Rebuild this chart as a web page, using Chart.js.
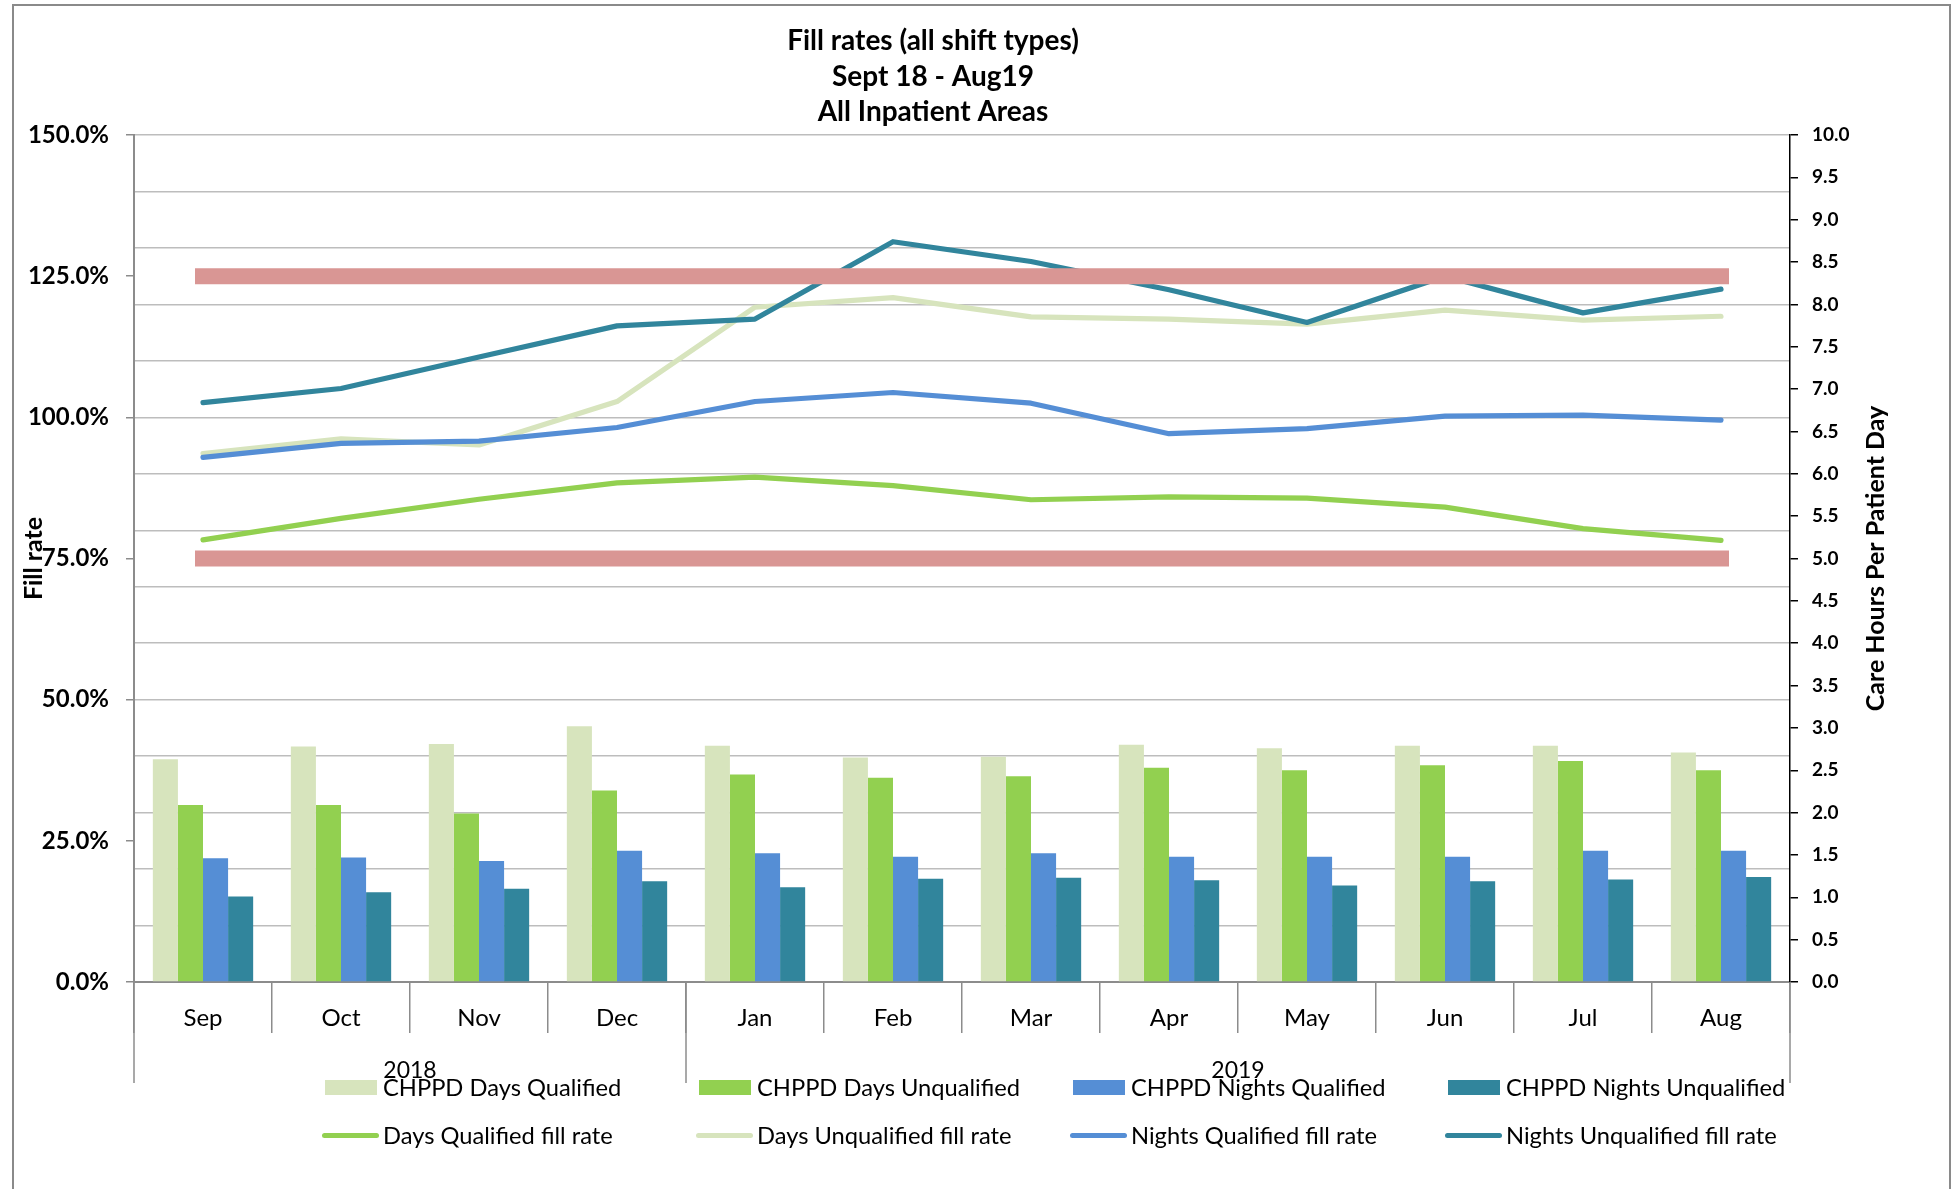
<!DOCTYPE html>
<html>
<head>
<meta charset="utf-8">
<script src="https://cdn.jsdelivr.net/npm/chart.js@4.4.1/dist/chart.umd.min.js"></script>
<style>
  html, body { margin:0; padding:0; background:#fff; width:1957px; height:1189px; overflow:hidden; }
  #wrap { position:absolute; left:0; top:0; width:1957px; height:1189px; }
  #frame { position:absolute; left:12px; top:4px; width:1939px; height:1300px; border:2px solid #8a8a8a; box-sizing:border-box; pointer-events:none; }
  #legend { position:absolute; left:0; top:0; width:1957px; height:1189px; pointer-events:none; font-family:Lato, "Open Sans", sans-serif; font-size:23.7px; color:#000; }
  .item { position:absolute; height:30px; display:flex; align-items:center; white-space:nowrap; }
  .sw-bar { width:52px; height:15px; margin-right:6px; }
  .sw-line { width:57px; height:5px; border-radius:3px; margin-left:-3px; margin-right:4px; }
</style>
</head>
<body>
<div id="wrap"><canvas id="c"></canvas></div>
<div id="frame"></div>
<div id="legend"></div>
<script>
// ---- data ----
const months = ['Sep','Oct','Nov','Dec','Jan','Feb','Mar','Apr','May','Jun','Jul','Aug'];
const yearLabels = ['2018','2019'];
const yearSpans = [4, 8];

const chppdDaysQualified     = [2.63, 2.78, 2.81, 3.02, 2.79, 2.65, 2.66, 2.80, 2.76, 2.79, 2.79, 2.71];
const chppdDaysUnqualified   = [2.09, 2.09, 1.99, 2.26, 2.45, 2.41, 2.43, 2.53, 2.50, 2.56, 2.61, 2.50];
const chppdNightsQualified   = [1.46, 1.47, 1.43, 1.55, 1.52, 1.48, 1.52, 1.48, 1.48, 1.48, 1.55, 1.55];
const chppdNightsUnqualified = [1.01, 1.06, 1.10, 1.19, 1.12, 1.22, 1.23, 1.20, 1.14, 1.19, 1.21, 1.24];

const daysQualifiedRate     = [78.3, 82.1, 85.5, 88.4, 89.4, 87.9, 85.4, 85.9, 85.7, 84.1, 80.3, 78.2];
const daysUnqualifiedRate   = [93.6, 96.2, 95.1, 102.8, 119.5, 121.2, 117.8, 117.4, 116.5, 119.0, 117.2, 117.9];
const nightsQualifiedRate   = [92.9, 95.4, 95.8, 98.2, 102.8, 104.4, 102.5, 97.1, 98.0, 100.2, 100.4, 99.5];
const nightsUnqualifiedRate = [102.6, 105.1, 110.7, 116.2, 117.4, 131.1, 127.6, 122.6, 116.8, 125.0, 118.5, 122.7];

const limitLevels = [125, 75];

const titleLines = ['Fill rates (all shift types)', 'Sept 18 - Aug19', 'All Inpatient Areas'];
const leftAxisTitle = 'Fill rate';
const rightAxisTitle = 'Care Hours Per Patient Day';

// ---- styles ----
const C_PALE = '#d7e4bd', C_GREEN = '#92d050', C_BLUE = '#558ed5', C_TEAL = '#31859c', C_RED = '#d99694';
const FONT = 'Lato';

function barSet(label, data, color) {
  return { type:'bar', label, data, backgroundColor:color, yAxisID:'y2', order:10,
           barPercentage:1.0, categoryPercentage:0.727, legendRow:0 };
}
function lineSet(label, data, color, order) {
  return { type:'line', label, data, borderColor:color, backgroundColor:color, yAxisID:'y',
           borderWidth:5.2, pointRadius:0, pointHoverRadius:0, tension:0, order,
           borderCapStyle:'round', borderJoinStyle:'round', legendRow:1 };
}
const datasets = [
  barSet('CHPPD Days Qualified', chppdDaysQualified, C_PALE),
  barSet('CHPPD Days Unqualified', chppdDaysUnqualified, C_GREEN),
  barSet('CHPPD Nights Qualified', chppdNightsQualified, C_BLUE),
  barSet('CHPPD Nights Unqualified', chppdNightsUnqualified, C_TEAL),
  lineSet('Days Qualified fill rate', daysQualifiedRate, C_GREEN, 4),
  lineSet('Days Unqualified fill rate', daysUnqualifiedRate, C_PALE, 3),
  lineSet('Nights Qualified fill rate', nightsQualifiedRate, C_BLUE, 2),
  lineSet('Nights Unqualified fill rate', nightsUnqualifiedRate, C_TEAL, 1),
];
limitLevels.forEach(v => datasets.push({
  type:'line', label:'limit ' + v, data: months.map(() => v), borderColor:C_RED,
  borderWidth:16, pointRadius:0, pointHoverRadius:0, borderCapStyle:'square', yAxisID:'y', order:0, legendRow:-1
}));

const isMult = (v, m) => Math.abs(Math.round(v) % m) === 0 && Math.abs(v - Math.round(v)) < 1e-6;
const TRANSPARENT = 'rgba(0,0,0,0)';

const extras = {
  id:'extras',
  afterDraw(chart) {
    const { ctx, chartArea } = chart;
    const x = chart.scales.x;
    const w = (x.right - x.left) / months.length;
    ctx.save();
    // chart title (three lines)
    ctx.fillStyle = '#000';
    ctx.textAlign = 'center';
    ctx.textBaseline = 'middle';
    ctx.font = 'bold 28px ' + FONT;
    titleLines.forEach((t, i) => ctx.fillText(t, 933, 41 + i * 35.5));
    // long year separators
    const bounds = [0];
    let acc = 0;
    yearSpans.forEach(n => { acc += n; bounds.push(acc); });
    ctx.strokeStyle = '#8c8c8c';
    ctx.lineWidth = 1.5;
    bounds.forEach(b => {
      const px = x.getPixelForValue(Math.min(b, months.length - 1)) + (b >= months.length ? w / 2 : -w / 2);
      ctx.beginPath();
      ctx.moveTo(px, chartArea.bottom);
      ctx.lineTo(px, chartArea.bottom + 101);
      ctx.stroke();
    });
    // year labels
    ctx.font = '23px ' + FONT;
    yearLabels.forEach((lab, i) => {
      const a = x.getPixelForValue(bounds[i]) - w / 2;
      const b = x.getPixelForValue(bounds[i + 1] - 1) + w / 2;
      ctx.fillText(lab, (a + b) / 2, chartArea.bottom + 88.5);
    });
    // right axis title (reads bottom to top)
    ctx.translate(1876, (chartArea.top + chartArea.bottom) / 2);
    ctx.rotate(-Math.PI / 2);
    ctx.font = 'bold 25px ' + FONT;
    ctx.fillText(rightAxisTitle, 0, 0);
    ctx.restore();
  }
};

const chart = new Chart(document.getElementById('c'), {
  type:'bar',
  data:{ labels: months, datasets },
  plugins:[extras],
  options:{
    responsive:true, maintainAspectRatio:false, animation:false,
    layout:{ padding:{ top:135, left:0, right:0, bottom:0 } },
    plugins:{
      legend:{ display:false },
      tooltip:{ enabled:false },
      title:{ display:false }
    },
    scales:{
      x:{
        offset:true,
        grid:{ offset:true, drawOnChartArea:false, drawTicks:true, tickLength:51, color:'#8c8c8c', lineWidth:1.5 },
        border:{ display:true, color:'#8c8c8c', width:2 },
        ticks:{ font:{ family:FONT, size:24 }, color:'#000', padding:-29, maxRotation:0, autoSkip:false },
        afterFit: s => { s.height = 207; }
      },
      y:{
        position:'left', min:0, max:150,
        ticks:{ stepSize:5, autoSkip:false, color:'#000', padding:17,
                font:{ family:FONT, size:24, weight:'bold' },
                callback: v => isMult(v, 25) ? v.toFixed(1) + '%' : '' },
        grid:{ color: c => isMult(c.tick.value, 10) ? '#bdbdbd' : TRANSPARENT,
               tickColor: c => isMult(c.tick.value, 25) ? '#8c8c8c' : TRANSPARENT,
               lineWidth:1.5, tickLength:8 },
        border:{ display:true, color:'#8c8c8c', width:2 },
        title:{ display:true, text:leftAxisTitle, color:'#000',
                font:{ family:FONT, size:25, weight:'bold' }, padding:{ top:19, bottom:0 } },
        afterFit: s => { s.width = 134; }
      },
      y2:{
        position:'right', min:0, max:10,
        ticks:{ stepSize:0.5, autoSkip:false, color:'#000', padding:14,
                font:{ family:FONT, size:19, weight:'bold' },
                callback: v => Number(v).toFixed(1) },
        grid:{ drawOnChartArea:false, color:'#000', lineWidth:1.5, tickLength:8 },
        border:{ display:true, color:'#000', width:1.5 },
        afterFit: s => { s.width = 167; }
      }
    }
  }
});

// ---- HTML legend from the chart's datasets ----
(function buildLegend() {
  const host = document.getElementById('legend');
  const colX = [325, 699, 1073, 1448];
  const rowY = [1087, 1135];
  const counters = [0, 0];
  chart.data.datasets.forEach(ds => {
    if (ds.legendRow < 0) return;
    const r = ds.legendRow, c = counters[r]++;
    const item = document.createElement('div');
    item.className = 'item';
    item.style.left = colX[c] + 'px';
    item.style.top = (rowY[r] - 15) + 'px';
    const sw = document.createElement('span');
    sw.className = ds.type === 'bar' ? 'sw-bar' : 'sw-line';
    sw.style.background = ds.type === 'bar' ? ds.backgroundColor : ds.borderColor;
    const tx = document.createElement('span');
    tx.textContent = ds.label;
    item.appendChild(sw);
    item.appendChild(tx);
    host.appendChild(item);
  });
})();
</script>
</body>
</html>
